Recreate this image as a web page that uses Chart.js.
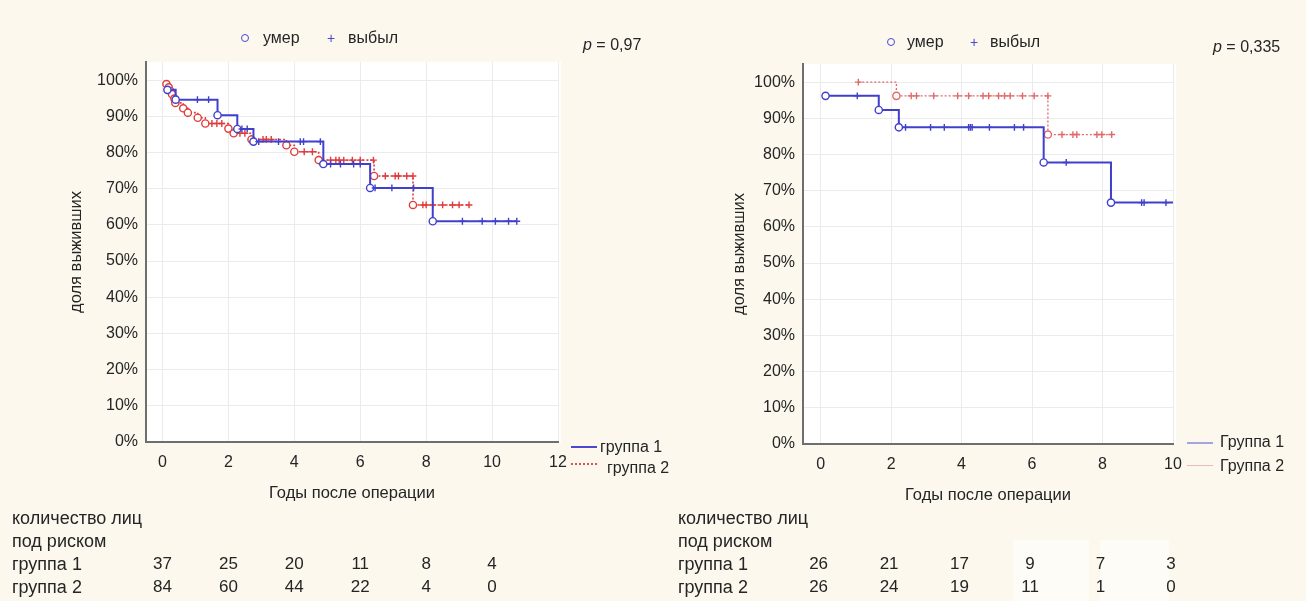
<!DOCTYPE html>
<html>
<head>
<meta charset="utf-8">
<script src="https://cdn.jsdelivr.net/npm/chart.js@4.4.0/dist/chart.umd.min.js"></script>
<style>
body{margin:0;background:#fcf8ee;font-family:"Liberation Sans",Arial,sans-serif;color:#252525;}
#wrap{position:relative;width:1306px;height:601px;overflow:hidden;}
.cv{position:absolute;}
.t{position:absolute;font-size:16px;line-height:16px;white-space:nowrap;transform:translateY(-50%);}
.tb{font-size:18px;line-height:18px;}
.c{transform:translate(-50%,-50%);font-size:17px;}
.dot{position:absolute;width:6px;height:6px;border:1.5px solid #4a4ad0;border-radius:50%;transform:translate(-50%,-50%);}
.plus{position:absolute;color:#4a4ad0;font-size:14px;transform:translate(-50%,-50%);}
.smp{position:absolute;width:26px;height:0;}
.box{position:absolute;background:#fefcf6;}
</style>
</head>
<body>
<div id="wrap">
  <div class="box" style="left:1013px;top:540px;width:76px;height:61px"></div>
  <div class="box" style="left:1100px;top:540px;width:69px;height:61px"></div>
  <canvas id="chartA" class="cv" style="left:0;top:0" width="660" height="510"></canvas>
  <canvas id="chartB" class="cv" style="left:660px;top:2px" width="646" height="510"></canvas>

  <!-- верхние легенды -->
  <div class="dot" style="left:245px;top:38px"></div><div class="t" style="left:263px;top:38px">умер</div>
  <div class="plus" style="left:331px;top:38px">+</div><div class="t" style="left:348px;top:38px">выбыл</div>
  <div class="t" style="left:583px;top:45px"><i>p</i> = 0,97</div>
  <div class="dot" style="left:891px;top:42px"></div><div class="t" style="left:907px;top:42px">умер</div>
  <div class="plus" style="left:974px;top:42px">+</div><div class="t" style="left:990px;top:42px">выбыл</div>
  <div class="t" style="left:1213px;top:47px"><i>p</i> = 0,335</div>

  <!-- легенды групп -->
  <div class="smp" style="left:571px;top:446px;border-top:2px solid #4a4ad0"></div>
  <div class="t" style="left:600px;top:447px">группа 1</div>
  <div class="smp" style="left:571px;top:463px;border-top:2px dotted #e25050"></div>
  <div class="t" style="left:607px;top:468px">группа 2</div>
  <div class="smp" style="left:1187px;top:442px;border-top:2px solid #a3a6dc"></div>
  <div class="t" style="left:1220px;top:442px">Группа 1</div>
  <div class="smp" style="left:1187px;top:465px;border-top:1px solid #eab9b9"></div>
  <div class="t" style="left:1220px;top:466px">Группа 2</div>

  <!-- таблицы числа под риском -->
  <div class="t tb" style="left:12px;top:518px">количество лиц</div>
  <div class="t tb" style="left:12px;top:541px">под риском</div>
  <div class="t tb" style="left:12px;top:564px">группа 1</div>
  <div class="t tb" style="left:12px;top:587px">группа 2</div>
  <div class="t tb" style="left:678px;top:518px">количество лиц</div>
  <div class="t tb" style="left:678px;top:541px">под риском</div>
  <div class="t tb" style="left:678px;top:564px">группа 1</div>
  <div class="t tb" style="left:678px;top:587px">группа 2</div>
</div>
<script>
// левый график: время (годы), доля выживших (%), событие (1 - умер, 0 - выбыл)
const aG1Time=[0.15,0.40,1.06,1.40,1.67,2.27,2.41,2.57,2.76,2.92,3.52,4.18,4.28,4.79,4.88,5.10,5.40,5.80,6.00,6.30,6.45,6.96,7.62,8.20,9.10,9.70,10.10,10.50,10.75];
const aG1Surv=[97.3,94.6,94.6,94.6,90.3,86.5,86.5,86.5,83.0,83.0,83.0,83.0,83.0,83.0,76.8,76.8,76.8,76.8,76.8,70.2,70.2,70.2,70.2,61.0,61.0,61.0,61.0,61.0,61.0];
const aG1Event=[1,1,0,0,1,1,0,0,1,0,0,0,0,0,1,0,0,0,0,1,0,0,0,1,0,0,0,0,0];

const aG2Time=[0.12,0.19,0.24,0.29,0.36,0.39,0.63,0.77,1.07,1.30,1.50,1.65,1.80,2.00,2.16,2.35,2.50,2.70,3.05,3.15,3.30,3.76,4.00,4.30,4.55,4.74,5.10,5.26,5.36,5.50,5.76,6.00,6.40,6.42,6.76,7.06,7.16,7.41,7.60,7.60,7.90,8.00,8.20,8.50,8.80,9.00,9.30];
const aG2Surv=[98.9,98.0,97.0,96.1,94.9,93.7,92.2,91.0,89.6,88.0,88.0,88.0,88.0,86.6,85.3,85.3,85.3,83.6,83.6,83.6,83.6,82.0,80.2,80.2,80.2,77.9,77.9,77.9,77.9,77.9,77.9,77.9,77.9,73.5,73.5,73.5,73.5,73.5,73.5,65.5,65.5,65.5,65.5,65.5,65.5,65.5,65.5];
const aG2Event=[1,1,1,1,1,1,1,1,1,1,0,0,0,1,1,0,0,1,0,0,0,1,1,0,0,1,0,0,0,0,0,0,0,1,0,0,0,0,0,1,0,0,0,0,0,0,0];

// правый график
const bG1Time=[0.14,1.04,1.65,2.22,2.41,3.12,3.51,4.20,4.25,4.30,4.79,5.50,5.76,6.33,6.97,8.24,9.11,9.18,9.80,10.0];
const bG1Surv=[96.2,96.2,92.3,87.5,87.5,87.5,87.5,87.5,87.5,87.5,87.5,87.5,87.5,77.8,77.8,66.7,66.7,66.7,66.7,66.7];
const bG1Event=[1,0,1,1,0,0,0,0,0,0,0,0,0,1,0,1,0,0,0,-1];

const bG2Time=[1.07,2.15,2.57,2.72,3.21,3.89,4.20,4.61,4.77,5.05,5.22,5.38,5.73,6.06,6.45,6.45,6.85,7.16,7.27,7.84,7.98,8.26];
const bG2Surv=[100,96.2,96.2,96.2,96.2,96.2,96.2,96.2,96.2,96.2,96.2,96.2,96.2,96.2,96.2,85.5,85.5,85.5,85.5,85.5,85.5,85.5];
const bG2Event=[0,1,0,0,0,0,0,0,0,0,0,0,0,0,0,1,0,0,0,0,0,0];

// число под риском
const riskTimes=[0,2,4,6,8,10];
const riskA1=[37,25,20,11,8,4];
const riskA2=[84,60,44,22,4,0];
const riskB1=[26,21,17,9,7,3];
const riskB2=[26,24,19,11,1,0];

const BLUE='#4040cc', RED='#e03c3c', RED2='#e06a6a';
const TXT='#252525';

const plotBg={id:'plotBg',beforeDraw(c){const a=c.chartArea;c.ctx.save();c.ctx.fillStyle='#ffffff';c.ctx.fillRect(a.left,a.top,a.right-a.left+3,a.bottom-a.top);c.ctx.restore();}};

function km(times,surv,ev,color,dash,width,order){
  return {
    data:times.map((t,i)=>({x:t,y:surv[i]})),
    borderColor:color,borderWidth:width,borderDash:dash,stepped:true,fill:false,order:order,
    pointStyle:c=>ev[c.dataIndex]===1?'circle':'cross',
    pointRadius:c=>ev[c.dataIndex]===-1?0:(ev[c.dataIndex]===1?3.6:3.4),
    pointBorderColor:color,pointBackgroundColor:'#ffffff',pointBorderWidth:1.4,
    pointHoverRadius:0
  };
}

function makeChart(id,sets,xmax,yW,yTitlePad,padRight){
  return new Chart(document.getElementById(id),{
    type:'line',
    data:{datasets:sets},
    plugins:[plotBg],
    options:{
      responsive:false,animation:false,
      layout:{padding:{top:62,right:padRight,left:0,bottom:0}},
      plugins:{legend:{display:false},tooltip:{enabled:false}},
      scales:{
        x:{type:'linear',min:-0.5,max:xmax,
          ticks:{stepSize:2,includeBounds:false,color:TXT,font:{size:16,family:'"Liberation Sans",Arial'},padding:3,maxRotation:0},
          grid:{color:'#ebebeb',tickLength:8,tickColor:'rgba(0,0,0,0)'},
          border:{color:'#6e6e6e',width:2},
          title:{display:true,text:'Годы после операции',color:TXT,font:{size:16.5,family:'"Liberation Sans",Arial'},padding:{top:0,bottom:7}},
          afterFit:s=>{s.height=68;}
        },
        y:{min:0,max:105,
          ticks:{stepSize:10,includeBounds:false,color:TXT,font:{size:16,family:'"Liberation Sans",Arial'},padding:0,callback:v=>v+'%'},
          grid:{color:'#ebebeb',tickLength:8,tickColor:'rgba(0,0,0,0)'},
          border:{color:'#6e6e6e',width:2},
          title:{display:true,text:'доля выживших',color:TXT,font:{size:16.5,family:'"Liberation Sans",Arial'},padding:{top:yTitlePad,bottom:0}},
          afterFit:s=>{s.width=yW;}
        }
      }
    }
  });
}

const chartA=makeChart('chartA',[
  km(aG1Time,aG1Surv,aG1Event,BLUE,[],2,0),
  km(aG2Time,aG2Surv,aG2Event,RED,[2,2],1.6,1)
],12,146,67,102);

const chartB=makeChart('chartB',[
  km(bG1Time,bG1Surv,bG1Event,BLUE,[],2,0),
  km(bG2Time,bG2Surv,bG2Event,RED2,[2,2],1.3,1)
],10,143,70,133);

function riskRow(chart,offX,vals,y){
  const wrap=document.getElementById('wrap');
  vals.forEach((v,i)=>{
    const d=document.createElement('div');
    d.className='t c';
    d.style.left=(offX+chart.scales.x.getPixelForValue(riskTimes[i]))+'px';
    d.style.top=y+'px';
    d.textContent=v;
    wrap.appendChild(d);
  });
}
riskRow(chartA,0,riskA1,564);
riskRow(chartA,0,riskA2,587);
riskRow(chartB,658,riskB1,564);
riskRow(chartB,658,riskB2,587);
</script>
</body>
</html>
